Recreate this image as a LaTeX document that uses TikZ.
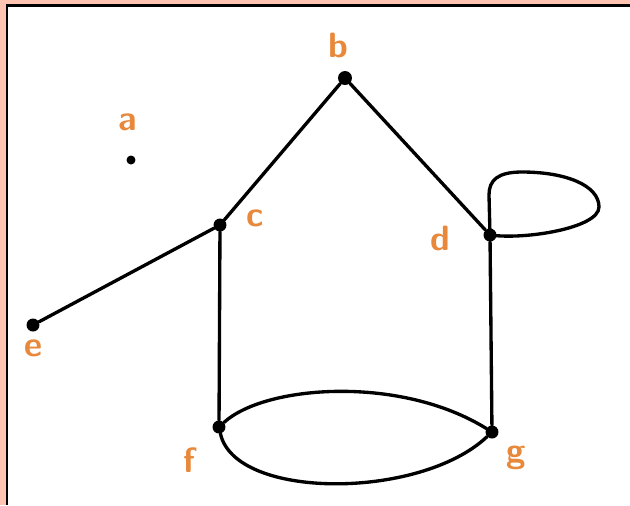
\documentclass[tikz,border=0pt]{standalone}
\usepackage{tikz}
\definecolor{salmon}{HTML}{FFC3B1}
\definecolor{tagorange}{HTML}{E8883A}

\begin{document}
\begin{tikzpicture}[x=0.02cm,y=-0.02cm,
  vertex/.style={circle,fill=black,inner sep=0pt,minimum size=0.26cm},
  tag/.style={text=tagorange,font=\sffamily\bfseries\fontsize{20}{20}\selectfont},
  edge/.style={line width=1.9pt,line join=round,line cap=round}]
\useasboundingbox (0,0) rectangle (630,505);
\fill [salmon] (0,0) rectangle (630,505);
\fill [black] (6,4) rectangle (630,505);
\fill [white] (8.5,6.5) rectangle (630,505);

\node [vertex,minimum size=0.18cm] (a) at (131,160) {};
\node [vertex,minimum size=0.28cm] (b) at (345,78) {};
\node [vertex] (c) at (220,225) {};
\node [vertex] (d) at (490,235) {};
\node [vertex] (e) at (33,325) {};
\node [vertex] (f) at (219,427) {};
\node [vertex] (g) at (492,432) {};

\node [tag] (la) at (128,122) {a};
\node [tag] (lb) at (338,45) {b};
\node [tag] (lc) at (255,218) {c};
\node [tag] (ld) at (440,238) {d};
\node [tag] (le) at (33,348) {e};
\node [tag] (lf) at (189,460) {f};
\node [tag] (lg) at (516,458) {g};

\draw [edge] (b) -- (c);
\draw [edge] (b) -- (d);
\draw [edge] (c) -- (e);
\draw [edge] (c) -- (f);
\draw [edge] (d) -- (g);
\draw [edge] (f) .. controls (265,385) and (400,375) .. (g);
\draw [edge] (f) .. controls (235,500) and (420,500) .. (g);
\draw [edge] (d.center) -- (489,195) .. controls (489,180) and (498,172) .. (522,172)
  .. controls (565,172) and (599,185) .. (599,207)
  .. controls (599,228) and (525,240) .. (d.center);

\end{tikzpicture}
\end{document}
